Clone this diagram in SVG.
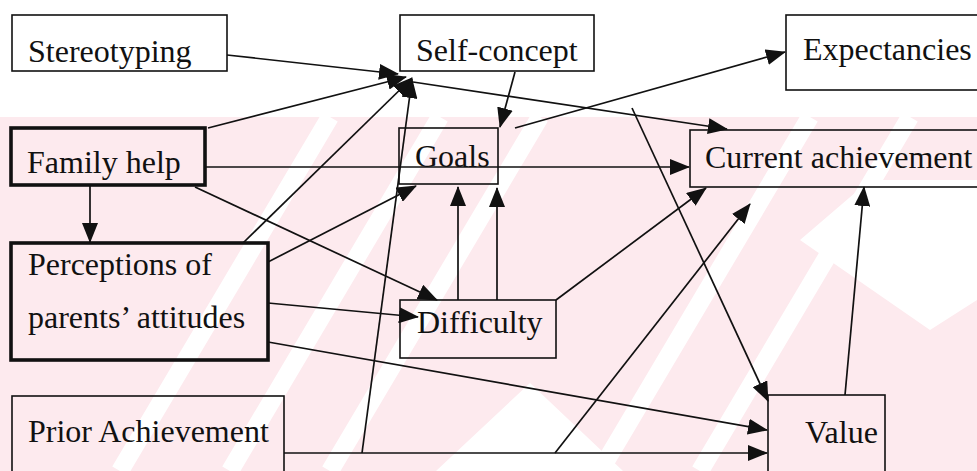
<svg xmlns="http://www.w3.org/2000/svg" width="977" height="471" viewBox="0 0 977 471">
<defs>
  <marker id="ah" viewBox="0 0 20 16" refX="19" refY="8" markerWidth="20" markerHeight="16" markerUnits="userSpaceOnUse" orient="auto">
    <path d="M0,0 L20,8 L0,16 Z" fill="#111"/>
  </marker>
  <clipPath id="wm"><rect x="0" y="117" width="977" height="354"/></clipPath>
</defs>
<style>
  .box { fill: none; stroke: #111; stroke-width: 1.6; }
  .thick { fill: none; stroke: #111; stroke-width: 3.6; }
  .lbl { font-family: "Liberation Serif", "Times New Roman", "DejaVu Serif", serif; font-size: 32px; fill: #111; }
  .c { fill: none; stroke: #111; stroke-width: 1.7; marker-end: url(#ah); }
  .wmp { fill: #fdeaee; }
  .wmw { stroke: #ffffff; stroke-width: 18; fill: none; }
</style>
<rect x="0" y="0" width="977" height="471" fill="#ffffff"/>
<g id="watermark" clip-path="url(#wm)">
  <rect class="wmp" x="0" y="117" width="977" height="354"/>
  <path class="wmw" d="M120,471 L330,117 M230,471 L440,117 M330,471 L540,117 M600,471 L810,117 M700,471 L910,117"/>
  <path d="M436,471 L530,383 L623,471 Z M800,240 L870,180 L977,180 L977,300 L930,330 Z" fill="#ffffff"/>
</g>
<g id="connectors">
  <path class="c" d="M227,55 L398,74"/>
  <path class="c" d="M208,128 L406,77"/>
  <path class="c" d="M243,243 L412,78"/>
  <path class="c" d="M362,453 L412,79"/>
  <path class="c" d="M413,82 L727,129"/>
  <path class="c" d="M515,72 L500,127"/>
  <path class="c" d="M515,128 L785,52"/>
  <path class="c" d="M205,167 L689,167"/>
  <path class="c" d="M90,185 L90,242"/>
  <path class="c" d="M195,187 L437,300"/>
  <path class="c" d="M268,262 L416,186"/>
  <path class="c" d="M268,303 L418,317"/>
  <path class="c" d="M268,342 L767,430"/>
  <path class="c" d="M284,453 L767,453"/>
  <path class="c" d="M555,453 L750,204"/>
  <path class="c" d="M458,300 L458,187"/>
  <path class="c" d="M497,300 L497,188"/>
  <path class="c" d="M556,300 L706,188"/>
  <path class="c" d="M632,108 L768,401"/>
  <path class="c" d="M845,395 L864,187"/>
</g>
<g id="stereotyping">
  <rect class="box" x="12" y="15" width="215" height="56"/>
  <text class="lbl" x="28" y="62">Stereotyping</text>
</g>
<g id="self-concept">
  <rect class="box" x="400" y="15" width="194" height="56"/>
  <text class="lbl" x="416" y="61">Self-concept</text>
</g>
<g id="expectancies">
  <rect class="box" x="786" y="15" width="200" height="75"/>
  <text class="lbl" x="803" y="60">Expectancies</text>
</g>
<g id="family-help">
  <rect class="thick" x="11" y="128" width="194" height="57"/>
  <text class="lbl" x="27" y="173">Family help</text>
</g>
<g id="goals">
  <rect class="box" x="399" y="128" width="99" height="56"/>
  <text class="lbl" x="415" y="167">Goals</text>
</g>
<g id="current-achievement">
  <rect class="box" x="690" y="130" width="300" height="57"/>
  <text class="lbl" x="705" y="168">Current achievement</text>
</g>
<g id="perceptions">
  <rect class="thick" x="11" y="243" width="257" height="117"/>
  <text class="lbl" x="28" y="275">Perceptions of</text>
  <text class="lbl" x="28" y="328">parents’ attitudes</text>
</g>
<g id="difficulty">
  <rect class="box" x="400" y="300" width="156" height="58"/>
  <text class="lbl" x="417" y="333">Difficulty</text>
</g>
<g id="prior-achievement">
  <rect class="box" x="12" y="396" width="272" height="90"/>
  <text class="lbl" x="28" y="442">Prior Achievement</text>
</g>
<g id="value">
  <rect class="box" x="768" y="395" width="117" height="90"/>
  <text class="lbl" x="805" y="443">Value</text>
</g>
</svg>
